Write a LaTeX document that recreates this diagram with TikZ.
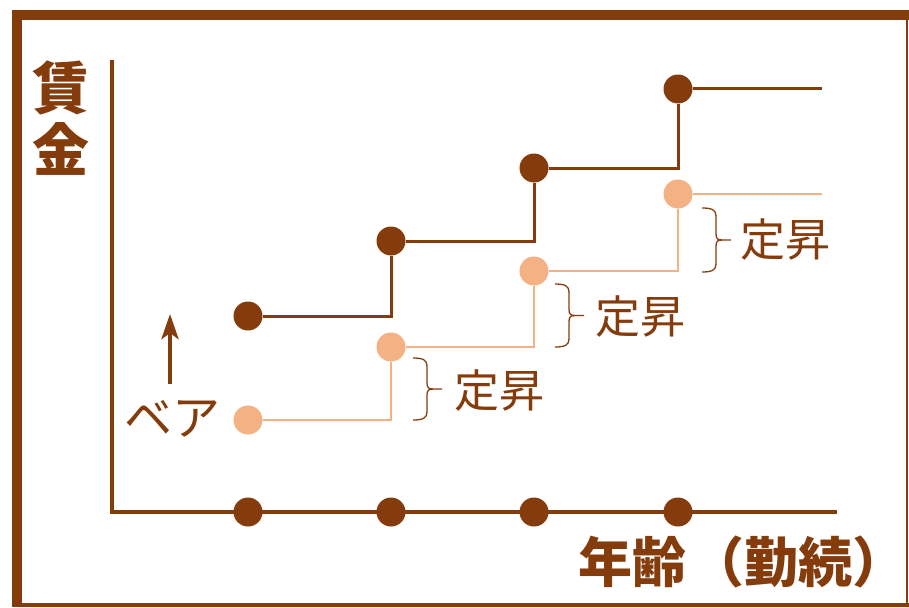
\documentclass[tikz,border=0pt]{standalone}
\usepackage{fontspec}
\newfontfamily\jp{Noto Sans CJK JP}
\usetikzlibrary{arrows.meta}
\definecolor{dbrown}{HTML}{843C0C}
\definecolor{lorange}{HTML}{F4B183}
\newcommand{\mybrace}[3]{%
  \draw[bracestyle] (#1,#2) .. controls ({#1+10},#2) and ({#1+14},{#2+2}) .. ({#1+14},{#2+8})
    -- ({#1+14},{(#2+#3)/2-6}) .. controls ({#1+14},{(#2+#3)/2-1}) and ({#1+16},{(#2+#3)/2}) .. ({#1+20},{(#2+#3)/2})
    -- ({#1+29},{(#2+#3)/2});
  \draw[bracestyle] (#1,#3) .. controls ({#1+10},#3) and ({#1+14},{#3-2}) .. ({#1+14},{#3-8})
    -- ({#1+14},{(#2+#3)/2+6}) .. controls ({#1+14},{(#2+#3)/2+1}) and ({#1+16},{(#2+#3)/2}) .. ({#1+20},{(#2+#3)/2});
}
\tikzset{
  ddot/.style={circle,fill=dbrown,inner sep=0pt,minimum size=29pt},
  ldot/.style={circle,fill=lorange,inner sep=0pt,minimum size=29pt},
  dline/.style={draw=dbrown,line width=3pt},
  lline/.style={draw=lorange,line width=2.8pt},
  axisline/.style={draw=dbrown,line width=3.2pt},
  bracestyle/.style={draw=dbrown,line width=1.3pt},
  boldlabel/.style={text=dbrown,font=\jp\bfseries\fontsize{57}{57}\selectfont,inner sep=0pt},
  teisho/.style={text=dbrown,font=\jp\fontsize{45}{45}\selectfont,inner sep=0pt},
}
\begin{document}
\begin{tikzpicture}[x=1pt,y=-1pt]
\useasboundingbox (0,0) rectangle (909,607);
% frame
\fill[dbrown] (12,10) rectangle (909,20);
\fill[dbrown] (12,10) rectangle (22,607);
\fill[dbrown] (12,603) rectangle (909,607);
\fill[dbrown] (906,10) rectangle (908,607);
% axes
\coordinate (ytop) at (112,60);
\coordinate (orig) at (112,512);
\coordinate (xend) at (837,512);
\draw[axisline] (ytop) -- (orig) -- (xend);
\foreach \i/\x in {1/248,2/391,3/534,4/678}
  \node[ddot] (x\i) at (\x,512) {};
% dark steps
\node[ddot] (d1) at (248,316) {};
\node[ddot] (d2) at (391,241) {};
\node[ddot] (d3) at (534,168) {};
\node[ddot] (d4) at (678,89) {};
\coordinate (de) at (822,89);
\draw[dline] (d1) -| (d2);
\draw[dline] (d2) -| (d3);
\draw[dline] (d3) -| (d4);
\draw[dline] (d4) -- (de);
% light steps
\node[ldot] (l1) at (248,420) {};
\node[ldot] (l2) at (391,347) {};
\node[ldot] (l3) at (534,271) {};
\node[ldot] (l4) at (678,194) {};
\coordinate (le) at (822,194);
\draw[lline] (l1) -| (l2);
\draw[lline] (l2) -| (l3);
\draw[lline] (l3) -| (l4);
\draw[lline] (l4) -- (le);
% braces
\mybrace{413}{358}{420}
\mybrace{555}{284}{347}
\mybrace{702}{208}{272}
\node[teisho] (t1) at (499,391) {定昇};
\node[teisho] (t2) at (640,317) {定昇};
\node[teisho] (t3) at (785,240) {定昇};
% axis labels
\node[boldlabel] (c1) at (61,88) {賃};
\node[boldlabel] (c2) at (61,149) {金};
\node[boldlabel,font=\jp\bfseries\fontsize{54}{54}\selectfont,anchor=west] (xl) at (578,562) {年齢\kern4pt（勤続）};
% bea
\node[text=dbrown,font=\jp\fontsize{48}{48}\selectfont,inner sep=0pt] (bea) at (172,419) {ベア};
\coordinate (abot) at (170,384);
\coordinate (atop) at (170,314);
\draw[draw=dbrown,fill=dbrown,line width=4.5pt,-{Stealth[length=25pt,width=17pt,inset=6pt]}] (abot) -- (atop);
\end{tikzpicture}
\end{document}
